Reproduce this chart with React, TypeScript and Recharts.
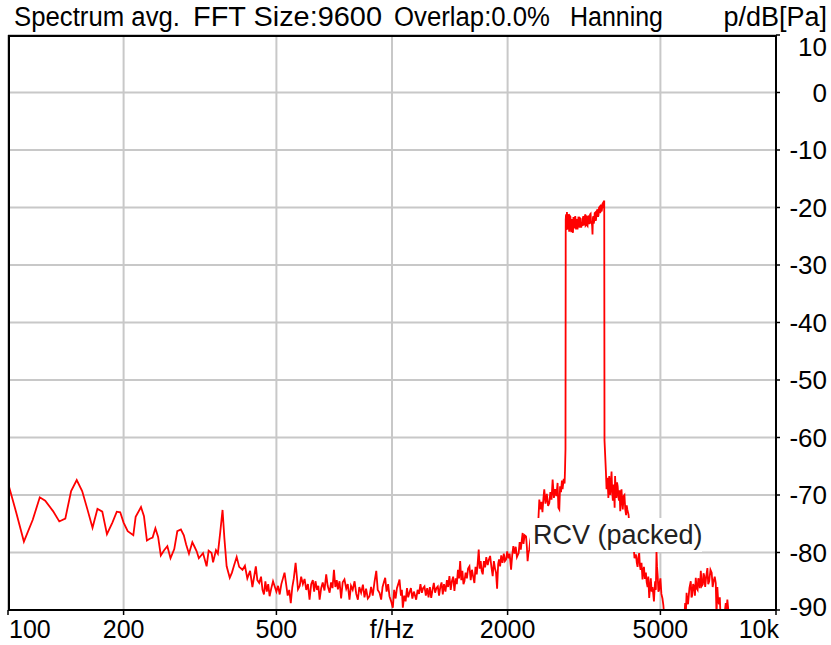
import React from 'react';
import { LineChart, Line, XAxis, YAxis, CartesianGrid } from 'recharts';

type P = [number, number];

// Frequency (Hz), level (dB)
const lowBand: P[] = [
  [100, -67.9], [105, -73], [110, -78.1], [116, -74.3], [121, -70.4], [125, -71], [131, -72.8], [136, -74.6],
  [141, -74.1], [146, -69.3], [151, -67.4], [156, -69.3], [161, -72.5], [166, -75.7], [171, -72.4],
  [176, -72.9], [181, -76.8], [187, -74.8], [192, -72.9], [196, -73], [200, -74.8], [205, -76.3],
  [212, -77], [215, -73.8], [222, -72.1], [226, -73.7], [230, -77.9], [234, -77.6], [238, -77.4],
  [242, -75.8], [246, -77.3], [250, -80.5], [255, -79.6], [260, -78.9], [265, -81], [271, -79.4],
  [276, -76.3], [282, -76], [287, -77], [291, -78.6], [296, -80.2], [302, -78.2], [306, -79], [310, -79.8],
  [314, -81], [322, -80.1], [329, -82.4], [333, -79.7], [339, -80.1], [342, -81.7], [348, -79.6],
  [352, -80.2], [357, -76.5], [362, -72.6], [366, -77.5], [371, -82.4], [378, -84.4], [383, -83.5],
  [388, -82.2],
];

const midBand: P[] = [
  [394, -80.8], [400, -82.5], [408, -83], [414, -82.3], [420, -84.5], [427, -83.2], [433, -86], [438, -84],
  [442, -82.4], [446, -84.8], [451, -85.3], [456, -84.2], [460, -86.5], [464, -87.3], [468, -85], [472, -86.8],
  [476, -85.5], [480, -87.6], [485, -86.2], [490, -85], [495, -85.9], [500, -86.8], [505, -85.8], [510, -87.3],
  [515, -85.5], [520, -84.5], [525, -83.5], [530, -85.5], [535, -87.5], [540, -86.5], [545, -88.8], [550, -86],
  [555, -84.5], [561, -81.8], [565, -84], [569, -86.4], [575, -85.8], [580, -84.2], [586, -85.5], [592, -84.6],
  [598, -86.5], [604, -85.5], [610, -88.2], [616, -85.5], [622, -84.8], [627, -86.8], [632, -85], [638, -86.5],
  [643, -85.8], [648, -88.2], [654, -86.2], [660, -85.2], [667, -86.6], [674, -83.8], [680, -85.8], [688, -87],
  [694, -85.2], [700, -86.2], [706, -83], [712, -86], [718, -84.8], [723, -86.4], [730, -85], [737, -88],
  [744, -85.2], [752, -84.7], [760, -86.3], [767, -85.5], [775, -88.2], [782, -85.8], [790, -86.5], [799, -85],
  [807, -87.2], [815, -88.2], [822, -86], [831, -87], [840, -85.6], [848, -87.8], [856, -86.3], [865, -88],
  [874, -87.6], [882, -86], [891, -87.5], [900, -85.2], [910, -83.2], [918, -86.5], [928, -87], [937, -88.2],
  [945, -86], [952, -85.2], [960, -84.4], [968, -86.8], [977, -85.5], [985, -87.6], [995, -88.5], [1005, -89.6],
  [1013, -86.5], [1022, -88], [1030, -86.2], [1038, -85.5], [1046, -84.7], [1055, -87.5], [1061, -86.5],
  [1067, -89.6], [1076, -87.5], [1085, -88.5], [1094, -86.2], [1102, -87.8], [1110, -87], [1120, -86.2],
  [1130, -88], [1140, -86.8], [1148, -87.5], [1156, -88.2], [1166, -86.5], [1176, -87.2], [1186, -85.5],
  [1196, -87], [1205, -86.2], [1215, -85.9], [1225, -87.5], [1235, -86.2], [1245, -87.8], [1255, -86],
  [1265, -87.9], [1275, -86.5], [1285, -85.3], [1295, -87], [1305, -86.2], [1316, -85.9], [1326, -87.5],
  [1336, -86], [1346, -85.2], [1356, -87.3], [1366, -85.5], [1378, -86.8], [1390, -84.8], [1400, -86],
  [1411, -84.1], [1422, -86.5], [1432, -85], [1443, -84.2], [1454, -86.7], [1465, -84.5], [1475, -85.5],
  [1485, -83], [1495, -84.5], [1505, -81.5], [1515, -84.8], [1525, -83.2], [1535, -85.5], [1544, -85],
  [1555, -83.5], [1567, -84.5], [1578, -82.8], [1591, -82.4], [1603, -84.8], [1615, -83], [1627, -84.2],
  [1639, -85.3], [1650, -82.5], [1662, -83.8], [1672, -81.8], [1682, -79.5], [1692, -82.8], [1702, -81.5],
  [1712, -83.2], [1723, -83.8], [1735, -81.5], [1748, -82.6], [1760, -80.8], [1775, -82.2], [1788, -81.2],
  [1801, -80.6], [1815, -82.5], [1829, -84.1], [1842, -81.5], [1855, -82.8], [1866, -83.5], [1878, -86.3],
  [1890, -82], [1900, -81.2], [1912, -82.4], [1925, -80.5], [1940, -81.8], [1955, -80.2], [1968, -81.5],
  [1982, -81.2], [1995, -79.8], [2010, -81], [2025, -80.2], [2042, -83], [2056, -80.5], [2070, -78.9],
  [2085, -80.2], [2100, -79], [2115, -80.8], [2137, -80.1], [2150, -78.2], [2165, -79.5], [2178, -77.8],
  [2189, -76.6], [2200, -78.5], [2215, -77], [2234, -77.2], [2245, -79], [2255, -81.5], [2266, -80.1],
  [2278, -79.5], [2290, -78],
];

const risingBand: P[] = [
  [2305, -77], [2320, -76.2], [2340, -78], [2355, -75.5], [2370, -76.8], [2385, -74.5], [2400, -75.5],
  [2409, -73.4], [2419, -70.8], [2435, -72.5], [2450, -71.2], [2465, -73], [2480, -70.5], [2492, -69],
  [2510, -71.5], [2530, -69.8], [2550, -71.9], [2568, -71.4], [2585, -69.5], [2603, -70.8], [2620, -67.3],
  [2640, -70.5], [2660, -69], [2680, -70.2], [2699, -67.9], [2712, -72.2], [2727, -72.5], [2740, -68.5],
  [2755, -69.5], [2770, -67.5], [2781, -69], [2800, -67.2], [2815, -68], [2822, -65.6], [2830, -62],
];

const plateauBand: P[] = [
  [2834, -22.1], [2840, -21.2], [2847, -23.9], [2855, -20.8], [2862, -23.8], [2870, -23.5], [2878, -21.2],
  [2885, -21.4], [2893, -24.2], [2900, -22.7], [2908, -21.5], [2915, -21.6], [2922, -23.6], [2930, -24.3],
  [2938, -22.2], [2945, -22], [2952, -24.1], [2960, -24.4], [2968, -21.8], [2975, -21.8], [2983, -23.4],
  [2990, -23.6], [3000, -21.5], [3008, -22.2], [3015, -23.8], [3022, -22.8], [3030, -22], [3042, -23.8],
  [3050, -22.6], [3060, -21.6], [3070, -23], [3080, -23.5], [3090, -21.9], [3100, -22], [3110, -23.5],
  [3120, -22.8], [3135, -23.2], [3142, -21.8], [3150, -21.5], [3160, -23.1], [3170, -22.6], [3178, -21.6],
  [3186, -21.2], [3193, -23.1], [3200, -23], [3208, -21.6], [3215, -21.7], [3222, -23.1], [3230, -23.2],
  [3240, -21.6], [3250, -21.4], [3260, -22.9], [3270, -22.5], [3280, -21.2], [3290, -21.1], [3300, -22.8],
  [3310, -22.4], [3320, -23.2], [3328, -24.7], [3336, -21.8], [3345, -21.5], [3352, -22.8], [3360, -22.4],
  [3372, -21], [3383, -20.9], [3392, -22.3], [3400, -22], [3415, -20.6], [3429, -20.3], [3440, -21.6],
  [3450, -21.3], [3460, -20], [3470, -19.9], [3485, -21], [3500, -19.5], [3510, -20.7], [3520, -20.5],
  [3532, -19.4], [3545, -19.2], [3558, -20.1], [3570, -18.8],
];

const fallBand: P[] = [
  [3576, -60.5], [3607, -66.1], [3620, -69], [3640, -67], [3660, -70.5], [3679, -66.7], [3700, -70],
  [3715, -68.2], [3730, -65.9], [3745, -69.5], [3760, -71], [3780, -68.2], [3800, -72.2], [3810, -66.7],
  [3825, -69.3], [3840, -70.5], [3855, -67.8], [3870, -68.5], [3885, -70.2], [3900, -71], [3915, -69.2],
  [3930, -72.8], [3945, -70.8], [3960, -69], [3975, -71.2], [3990, -72.5], [4010, -70.2], [4030, -70],
  [4050, -72.5], [4070, -73.5], [4085, -71.8], [4100, -72.5], [4130, -73.4], [4160, -76], [4195, -77.5],
  [4230, -79.8], [4255, -78.5], [4280, -81], [4317, -80.3], [4340, -81.8], [4360, -82.5], [4380, -80.8],
  [4403, -80.1], [4420, -82.2], [4440, -83], [4465, -81.8], [4491, -84.7], [4510, -83.2], [4530, -82.5],
  [4555, -84.6], [4583, -83.5], [4605, -85.2], [4630, -86], [4650, -84.2], [4675, -87.9], [4700, -85.8],
  [4720, -84.5], [4745, -86.8], [4768, -86], [4790, -87.2], [4810, -88.5], [4830, -86.2], [4845, -85],
  [4865, -86.5], [4884, -79.8], [4900, -82.5], [4920, -84.1], [4940, -86.8], [4963, -86.5], [4980, -85.2],
  [5000, -84.5], [5030, -87.2], [5062, -88], [5090, -89.2], [5114, -91], [5200, -94], [5400, -96],
  [5600, -95], [5763, -92],
];

const highBand: P[] = [
  [5800, -88.8], [5825, -90.5], [5850, -87], [5875, -88.6], [5900, -89], [5950, -86.2], [5999, -85],
  [6025, -87.8], [6050, -87.5], [6085, -85.5], [6120, -86], [6150, -87.5], [6181, -84.4], [6215, -86.2],
  [6250, -86.5], [6275, -84.5], [6300, -84.8], [6335, -86.2], [6371, -83.2], [6410, -85.8], [6450, -85.5],
  [6475, -83.6], [6500, -84], [6540, -86], [6580, -84.2], [6627, -82.7], [6660, -85.5], [6700, -85],
  [6750, -83], [6800, -83.5], [6840, -86], [6880, -85], [6925, -84.2], [6968, -85.3], [7000, -91],
  [7035, -86], [7070, -88.5], [7108, -89], [7140, -87.8], [7170, -91], [7224, -92], [7300, -91],
  [7350, -90.5], [7399, -88.8], [7430, -90.2], [7470, -88.2], [7550, -91.5], [7623, -92], [8000, -95],
  [9000, -96], [10000, -96],
];

const xTicks = [100, 200, 500, 1000, 2000, 5000, 10000];
const xTickLabels = ['100', '200', '500', 'f/Hz', '2000', '5000', '10k'];
const yTicks = [-90, -80, -70, -60, -50, -40, -30, -20, -10, 0, 10];

const titleParts = ['Spectrum avg.', 'FFT Size:9600', 'Overlap:0.0%', 'Hanning'];
const unitText = 'p/dB[Pa]';
const seriesLabel = 'RCV (packed)';

const data = [...lowBand, ...midBand, ...risingBand, ...plateauBand, ...fallBand, ...highBand].map(
  ([f, db]) => ({ f, db })
);

const FONT = '"Liberation Sans", Arial, sans-serif';

// title layout (start x, width) per part
const titleBoxes = [
  [14, 166],
  [193, 189],
  [394, 156],
  [570, 93],
];

const XTick = (props: any) => {
  const { x, y, payload } = props;
  const idx = xTicks.indexOf(payload.value);
  const label = xTickLabels[idx] ?? String(payload.value);
  let anchor: 'start' | 'middle' | 'end' = 'middle';
  let dx = 0;
  if (idx === 0) { anchor = 'start'; dx = 1; }
  if (idx === xTicks.length - 1) { anchor = 'end'; dx = 3; }
  return (
    <text x={x + dx} y={y + 21} textAnchor={anchor} fontSize={25} fontFamily={FONT} fill="#000">
      {label}
    </text>
  );
};

const YTick = (props: any) => {
  const { y, payload } = props;
  let dy = 9;
  if (payload.value === 10) dy = 21;
  if (payload.value === -90) dy = 6;
  return (
    <text x={827} y={y + dy} textAnchor="end" fontSize={26} fontFamily={FONT} fill="#000">
      {payload.value}
    </text>
  );
};

export default function App() {
  return (
    <div style={{ position: 'absolute', left: 0, top: 0, width: 831, height: 645, background: '#fff', fontFamily: FONT }}>
      <svg width={831} height={34} style={{ position: 'absolute', left: 0, top: 0 }}>
        {titleParts.map((t, i) => (
          <text
            key={t}
            x={titleBoxes[i][0]}
            y={26}
            fontSize={27}
            fontFamily={FONT}
            fill="#000"
            textLength={titleBoxes[i][1]}
            lengthAdjust="spacingAndGlyphs"
          >
            {t}
          </text>
        ))}
        <text x={827} y={26} fontSize={27} fontFamily={FONT} fill="#000" textAnchor="end">
          {unitText}
        </text>
      </svg>
      <LineChart width={831} height={645} data={data} margin={{ top: 35, left: 8, right: 5, bottom: 5 }}>
        <CartesianGrid stroke="#c8c8c8" strokeWidth={2} />
        <XAxis
          dataKey="f"
          type="number"
          scale="log"
          domain={[100, 10000]}
          ticks={xTicks}
          allowDataOverflow
          height={30}
          tick={<XTick />}
          tickSize={5}
          axisLine={{ stroke: '#000', strokeWidth: 2 }}
          tickLine={{ stroke: '#000', strokeWidth: 1.5 }}
          interval={0}
        />
        <YAxis
          orientation="right"
          type="number"
          domain={[-90, 10]}
          ticks={yTicks}
          allowDataOverflow
          width={50}
          tick={<YTick />}
          tickSize={4}
          axisLine={{ stroke: '#000', strokeWidth: 2 }}
          tickLine={{ stroke: '#000', strokeWidth: 1.5 }}
          interval={0}
        />
        <Line
          dataKey="db"
          type="linear"
          stroke="#ff0000"
          strokeWidth={1.8}
          dot={false}
          isAnimationActive={false}
        />
      </LineChart>
      <div style={{ position: 'absolute', left: 8, top: 35, width: 768, height: 575, borderTop: '2px solid #000', borderLeft: '2px solid #000', boxSizing: 'border-box', pointerEvents: 'none' }} />
      <div style={{ position: 'absolute', left: 530, top: 518, width: 172, height: 34, background: '#fff', fontSize: 27, lineHeight: '34px', paddingLeft: 3, boxSizing: 'border-box', color: '#222', whiteSpace: 'pre' }}>
        {seriesLabel}
      </div>
    </div>
  );
}
